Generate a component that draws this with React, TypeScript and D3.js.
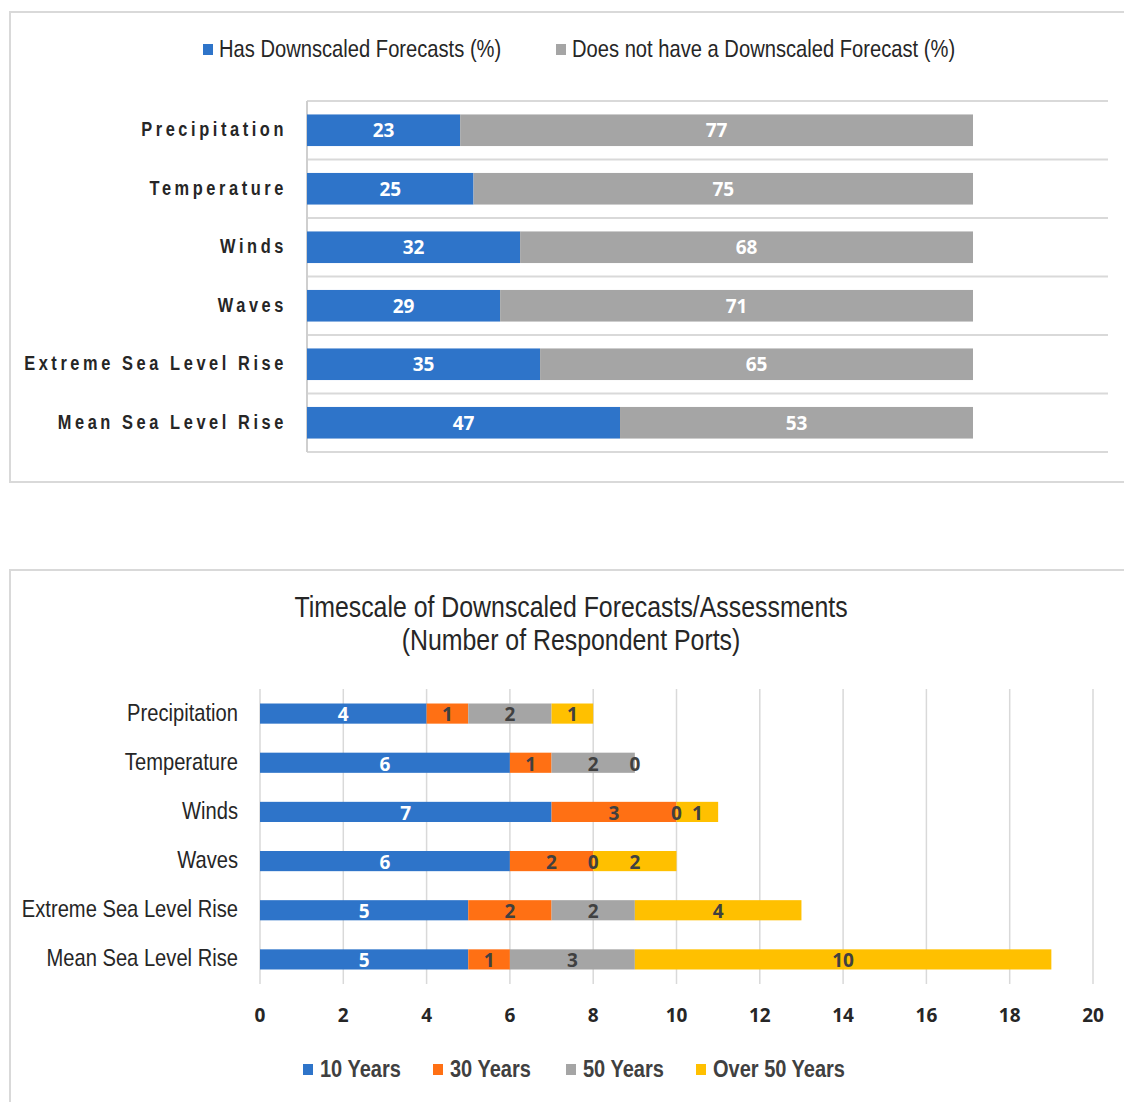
import React from "react";
import * as d3 from "d3";

// Top panel: share of ports with downscaled forecasts (%)
const hazards = [
  "Precipitation",
  "Temperature",
  "Winds",
  "Waves",
  "Extreme Sea Level Rise",
  "Mean Sea Level Rise",
];
const hasForecast = [23, 25, 32, 29, 35, 47];
const noForecast = [77, 75, 68, 71, 65, 53];
const shareLegend = ["Has Downscaled Forecasts (%)", "Does not have a Downscaled Forecast (%)"];

// Bottom panel: timescale of forecasts (number of respondent ports)
const timescaleNames = ["10 Years", "30 Years", "50 Years", "Over 50 Years"];
const years10 = [4, 6, 7, 6, 5, 5];
const years30 = [1, 1, 3, 2, 2, 1];
const years50 = [2, 2, 0, 0, 2, 3];
const yearsOver50 = [1, 0, 1, 2, 4, 10];
const countTicks = [0, 2, 4, 6, 8, 10, 12, 14, 16, 18, 20];
const timescaleTitle = ["Timescale of Downscaled Forecasts/Assessments", "(Number of Respondent Ports)"];

const BLUE = "#2E74C9";
const GRAY = "#A5A5A5";
const ORANGE = "#FF7014";
const YELLOW = "#FFC000";
const SANS = "'Liberation Sans', Arial, sans-serif";
const LABEL_FONT = "'Open Sans', 'DejaVu Sans', sans-serif";

// Horizontally condensed text (narrow-face look)
function Narrow({ x, y, sx, anchor = "start", size, weight = 400, spacing = 0, fill = "#262626", children }: any) {
  return (
    <g transform={`translate(${x},${y}) scale(${sx},1)`}>
      <text textAnchor={anchor} fontFamily={SANS} fontSize={size} fontWeight={weight}
        letterSpacing={spacing} fill={fill}>{children}</text>
    </g>
  );
}

function SharePanel() {
  const x = d3.scaleLinear().domain([0, 100]).range([307, 973]);
  const y = d3.scaleBand<string>().domain(hazards).range([101, 452]).paddingInner(0.46).paddingOuter(0.23);
  const band = d3.scaleBand<string>().domain(hazards).range([101, 452]);
  const rows = hazards.map((h, i) => ({ h, a: hasForecast[i], b: noForecast[i] }));
  return (
    <g>
      <rect x={10} y={12} width={1130} height={470} fill="#fff" stroke="#D9D9D9" strokeWidth={2} />
      {/* legend */}
      <rect x={203} y={44} width={10} height={11} fill={BLUE} />
      <Narrow x={219} y={57} sx={0.84} size={24}>{shareLegend[0]}</Narrow>
      <rect x={556} y={44} width={10} height={11} fill={GRAY} />
      <Narrow x={572} y={57} sx={0.84} size={24}>{shareLegend[1]}</Narrow>
      {/* band separators */}
      {[...hazards.map((h) => band(h)!), 452].map((v, i) => (
        <line key={i} x1={307} x2={1108} y1={v} y2={v} stroke="#D9D9D9" strokeWidth={2} />
      ))}
      <line x1={307} x2={307} y1={101} y2={452} stroke="#CFCFCF" strokeWidth={2} />
      {rows.map((r) => {
        const y0 = y(r.h)!;
        const bh = y.bandwidth();
        const cy = y0 + bh / 2;
        return (
          <g key={r.h}>
            <rect x={x(0)} y={y0} width={x(r.a) - x(0)} height={bh} fill={BLUE} />
            <rect x={x(r.a)} y={y0} width={x(r.a + r.b) - x(r.a)} height={bh} fill={GRAY} />
            <text x={(x(0) + x(r.a)) / 2} y={cy} dy="0.36em" textAnchor="middle" fontFamily={LABEL_FONT}
              fontWeight={700} fontSize={19} fill="#fff">{r.a}</text>
            <text x={(x(r.a) + x(r.a + r.b)) / 2} y={cy} dy="0.36em" textAnchor="middle" fontFamily={LABEL_FONT}
              fontWeight={700} fontSize={19} fill="#fff">{r.b}</text>
            <Narrow x={287} y={cy + 6} sx={0.78} anchor="end" size={21} weight={700} spacing={4.6}>{r.h}</Narrow>
          </g>
        );
      })}
    </g>
  );
}

function TimescalePanel() {
  const x = d3.scaleLinear().domain([0, 20]).range([260, 1093]);
  const y = d3.scaleBand<string>().domain(hazards).range([689, 984]).paddingInner(0.59).paddingOuter(0.295);
  const colors = [BLUE, ORANGE, GRAY, YELLOW];
  const table = hazards.map((h, i) => ({
    h,
    v0: years10[i],
    v1: years30[i],
    v2: years50[i],
    v3: yearsOver50[i],
  }));
  const stack = d3.stack<any>().keys(["v0", "v1", "v2", "v3"])(table);
  const legendX = [303, 433, 566, 696];
  return (
    <g>
      <rect x={10} y={570} width={1130} height={560} fill="#fff" stroke="#D9D9D9" strokeWidth={2} />
      {timescaleTitle.map((t, i) => (
        <Narrow key={t} x={571} y={617 + i * 33} sx={0.858} anchor="middle" size={29}>{t}</Narrow>
      ))}
      {countTicks.map((t) => (
        <g key={t}>
          <line x1={x(t)} x2={x(t)} y1={689} y2={984} stroke="#D9D9D9" strokeWidth={1.5} />
          <text x={x(t)} y={1022} textAnchor="middle" fontFamily={LABEL_FONT} fontWeight={700} fontSize={19} fill="#262626">{t}</text>
        </g>
      ))}
      {stack.map((layer, k) => (
        <g key={k}>
          {layer.map((seg, i) => (
            <rect key={i} x={x(seg[0])} y={y(hazards[i])!} width={x(seg[1]) - x(seg[0])} height={y.bandwidth()}
              fill={colors[k]} />
          ))}
        </g>
      ))}
      {stack.map((layer, k) => (
        <g key={k}>
          {layer.map((seg, i) => (
            <text key={i} x={(x(seg[0]) + x(seg[1])) / 2} y={y(hazards[i])! + y.bandwidth() / 2 + 1} dy="0.36em"
              textAnchor="middle" fontFamily={LABEL_FONT} fontWeight={700} fontSize={19}
              fill={k === 0 ? "#fff" : "#404040"}>
              {seg[1] - seg[0]}
            </text>
          ))}
        </g>
      ))}
      {hazards.map((h) => (
        <Narrow key={h} x={238} y={y(h)! + y.bandwidth() / 2 + 7} sx={0.84} anchor="end" size={24}>{h}</Narrow>
      ))}
      {timescaleNames.map((n, i) => (
        <g key={n}>
          <rect x={legendX[i]} y={1064} width={10} height={11} fill={colors[i]} />
          <Narrow x={legendX[i] + 17} y={1077} sx={0.87} size={23} weight={700} fill="#404040">{n}</Narrow>
        </g>
      ))}
    </g>
  );
}

export default function App() {
  return (
    <svg width={1124} height={1102} style={{ position: "absolute", left: 0, top: 0, background: "#fff" }}>
      <rect width={1124} height={1102} fill="#fff" />
      <SharePanel />
      <TimescalePanel />
    </svg>
  );
}
